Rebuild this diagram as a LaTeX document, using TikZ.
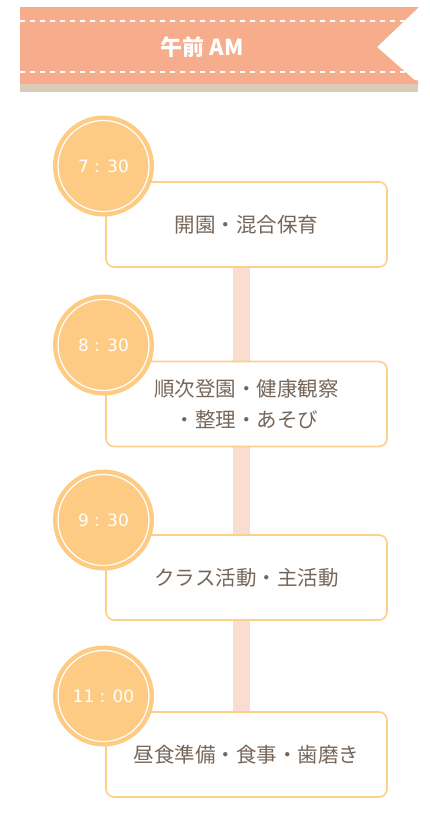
\documentclass[tikz,border=0pt]{standalone}
\usepackage{fontspec}
\setmainfont{Noto Sans CJK JP}
\newfontfamily\timefont{DejaVu Sans}
\usetikzlibrary{backgrounds}
\definecolor{bannerc}{HTML}{F7AD8C}
\definecolor{shadowc}{HTML}{D9CCB9}
\definecolor{circc}{HTML}{FECB84}
\definecolor{boxc}{HTML}{FDD08A}
\definecolor{linec}{HTML}{F8DDD0}
\definecolor{txtc}{HTML}{76665A}
\tikzset{
  actbox/.style={draw=boxc, line width=1.6pt, fill=white, rounded corners=8pt,
    minimum width=281pt, minimum height=85pt, inner sep=0pt, align=center,
    text=txtc, font=\fontsize{20.5pt}{31pt}\selectfont},
  timecirc/.style={circle, fill=circc, minimum size=101pt, inner sep=0pt,
    text=white, font=\timefont\fontsize{17pt}{20pt}\selectfont},
  ring/.style={draw=white, line width=1.2pt},
  vline/.style={draw=linec, line width=17pt},
  dashline/.style={draw=white, line width=1.2pt, dash pattern=on 5pt off 5pt},
}
\begin{document}
\begin{tikzpicture}[x=1pt,y=-1pt]
\useasboundingbox (0,0) rectangle (429,825);
% banner
\fill[shadowc] (20,80) rectangle (418,92);
\fill[bannerc] (20,7) -- (419,7) -- (377,47) -- (419,84) -- (20,84) -- cycle;
\begin{scope}
\clip (20,7) -- (419,7) -- (377,47) -- (419,84) -- (20,84) -- cycle;
\draw[dashline] (20,21) -- (410,21);
\draw[dashline] (20,72) -- (410,72);
\end{scope}
\node[text=white, font=\bfseries\fontsize{22pt}{24pt}\selectfont] (title) at (202,47) {午前 AM};
% boxes
\node[actbox] (b1) at (246.5,224.5) {開園・混合保育};
\node[actbox] (b2) at (246.5,404) {順次登園・健康観察\\・整理・あそび};
\node[actbox] (b3) at (246.5,577.5) {クラス活動・主活動};
\node[actbox] (b4) at (246.5,754.5) {昼食準備・食事・歯磨き};
\begin{scope}[on background layer]
\draw[vline] ([xshift=-5pt]b1.south) -- ([xshift=-5pt]b4.north);
\end{scope}
% circles
\node[timecirc] (t1) at (103.5,166) {7 : 30};
\node[timecirc] (t2) at (103.5,345) {8 : 30};
\node[timecirc] (t3) at (103.5,520) {9 : 30};
\node[timecirc] (t4) at (103.5,696) {11 : 00};
\foreach \n in {t1,t2,t3,t4} \draw[ring] (\n) circle (45.5pt);
\end{tikzpicture}
\end{document}
